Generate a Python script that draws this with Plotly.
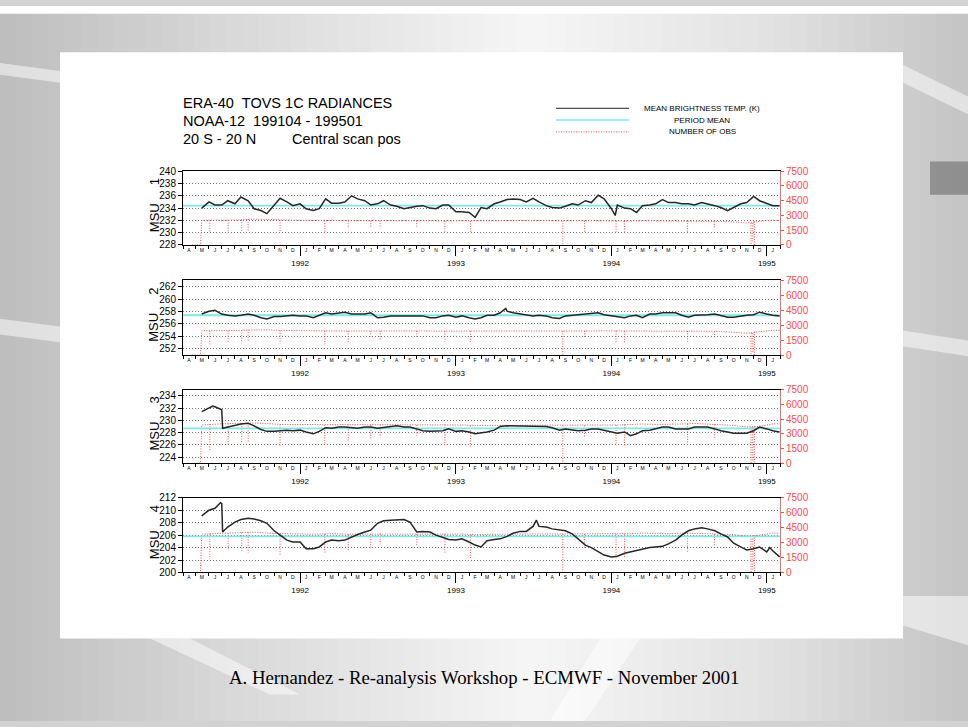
import pandas as pd
import plotly.graph_objects as go

# ---------------- text ----------------
TITLE_LINES = ["ERA-40  TOVS 1C RADIANCES", "NOAA-12  199104 - 199501", "20 S - 20 N"]
TITLE_EXTRA = "Central scan pos"
LEGEND_LABELS = ["MEAN BRIGHTNESS TEMP. (K)", "PERIOD MEAN", "NUMBER OF OBS"]
FOOTER = "A. Hernandez - Re-analysis Workshop - ECMWF - November 2001"
CHANNEL_NAMES = ["1", "2", "3", "4"]

# ---------------- axes ----------------
X_START, X_END = "1991-04-01", "1995-02-01"
YEAR_TICKS = ["1992-01-01", "1993-01-01", "1994-01-01", "1995-01-01"]
YEAR_LABELS = ["1992", "1993", "1994", "1995"]
MONTH_LETTERS = ["J", "F", "M", "A", "M", "J", "J", "A", "S", "O", "N", "D"]
LEFT_RANGES = [[228, 240], [251, 263], [223, 235], [200, 212]]
LEFT_TICKS = [[228, 230, 232, 234, 236, 238, 240],
              [252, 254, 256, 258, 260, 262],
              [224, 226, 228, 230, 232, 234],
              [200, 202, 204, 206, 208, 210, 212]]
OBS_RANGE = [0, 7500]
OBS_TICKS = [0, 1500, 3000, 4500, 6000, 7500]

# ---------------- data ----------------
# mean brightness temperature, sampled on the 1st and 15th of each month
TEMP_DATES = ["1991-05-15"] + [f"{y}-{m:02d}-{d:02d}"
                               for y in range(1991, 1996) for m in range(1, 13) for d in (1, 15)
                               if (y, m) >= (1991, 6) and (y, m) <= (1995, 1)] + ["1995-01-31"]

TEMP_MSU1 = [234.0, 235.0, 234.5, 234.5, 235.2, 234.7, 235.8, 235.2, 233.9, 233.6, 233.1, 234.4, 235.6, 235.0, 234.4,
             234.7, 233.9, 233.6, 233.9, 235.5, 234.8, 234.8, 235.0, 236.0, 235.5, 235.2, 234.5, 234.7, 235.2, 234.5, 234.3,
             233.9, 234.1, 234.3, 234.4, 234.0, 233.9, 234.5, 234.5,
             233.4, 233.4, 233.3, 232.5, 234.1, 233.9, 234.7, 235.0, 235.4, 235.5, 235.4, 235.0, 235.6, 235.0, 234.4, 234.1,
             234.0, 234.3, 234.7, 234.5, 235.2, 234.9, 236.1, 235.5,
             233.9, 234.5, 234.0, 233.9, 233.3, 234.4, 234.5, 234.7, 235.4, 234.9, 234.9, 234.7, 234.7, 234.5, 234.9, 234.7,
             234.4, 234.1, 233.6, 234.1, 234.7, 234.9, 235.9, 235.2,
             234.7, 234.4, 234.4]
TEMP_MSU2 = [257.6, 258.05, 258.2, 257.6, 257.4, 257.3, 257.4, 257.6, 257.4, 257.0, 256.8, 257.2, 257.2, 257.3, 257.4,
             257.3, 257.3, 257.0, 257.4, 257.8, 257.6, 257.8, 257.9, 257.6, 257.6, 257.6, 257.8, 257.0, 257.1, 257.3, 257.3,
             257.3, 257.4, 257.3, 257.3, 257.0, 257.0, 257.3, 257.4,
             257.1, 257.3, 257.0, 256.8, 257.0, 257.4, 257.4, 257.8, 258.05, 257.8, 257.6, 257.4, 257.3, 257.4, 257.3, 257.0,
             256.9, 257.3, 257.4, 257.4, 257.5, 257.6, 257.8, 257.5,
             257.3, 257.1, 257.0, 257.3, 257.4, 257.0, 257.6, 257.6, 257.8, 257.8, 257.8, 257.4, 257.1, 257.4, 257.4, 257.5,
             257.6, 257.4, 257.1, 257.1, 257.3, 257.4, 257.5, 257.9,
             257.6, 257.4, 257.3]
TEMP_MSU3 = [231.4, 232.0, 232.2, 231.7, 228.9, 229.1, 229.4, 229.5, 229.1, 228.5, 228.2, 228.2, 228.3, 228.4, 228.3,
             228.4, 228.1, 227.8, 228.2, 228.8, 228.7, 228.9, 228.9, 228.8, 228.7, 228.9, 228.9, 228.7, 228.8, 228.9, 229.1,
             228.9, 228.9, 228.6, 228.3, 228.2, 228.2, 228.3, 228.6,
             228.2, 228.3, 228.1, 227.8, 227.9, 228.1, 228.4, 229.0, 229.1, 229.1, 229.0, 229.0, 229.1, 229.0, 229.0, 228.8,
             228.4, 228.6, 228.4, 228.3, 228.4, 228.6, 228.6, 228.4,
             228.1, 227.9, 228.1, 227.5, 227.8, 228.3, 228.4, 228.6, 228.9, 228.9, 228.6, 228.6, 228.6, 228.9, 228.9, 228.9,
             228.6, 228.3, 228.1, 227.9, 227.9, 227.9, 228.3, 228.9,
             228.6, 228.3, 228.1]
TEMP_MSU4 = [209.1, 210.0, 210.3, 211.05, 207.3, 208.1, 208.5, 208.7, 208.6, 208.3, 207.9, 206.7, 206.0, 205.2, 204.9,
             204.9, 203.8, 203.8, 204.1, 204.9, 205.2, 205.1, 205.2, 205.7, 206.1, 206.5, 206.8, 207.9, 208.3, 208.4, 208.5,
             208.5, 208.1, 206.5, 206.6, 206.5, 206.0, 205.6, 205.3,
             205.2, 205.4, 204.9, 204.4, 204.1, 205.1, 205.3, 205.4, 205.8, 206.3, 206.6, 206.6, 207.4, 207.4, 207.3, 207.0,
             206.8, 206.7, 206.2, 205.4, 204.4, 204.0, 203.3, 202.8,
             202.5, 202.6, 203.1, 203.3, 203.6, 203.8, 204.0, 204.1, 204.2, 204.6, 205.2, 206.0, 206.7, 207.0, 207.2, 207.0,
             206.7, 206.2, 205.7, 204.7, 204.1, 203.6, 203.8, 204.1,
             203.3, 203.5, 202.5]
# a few extra readings (sharp features) per channel
TEMP_EXTRA_DATES = [["1994-01-10"], ["1993-04-28"], ["1991-06-10", "1991-07-03"],
                    ["1991-06-28", "1991-07-03", "1993-07-09", "1995-01-08", "1995-01-22"]]
TEMP_EXTRA_VALUES = [[232.8], [258.5], [232.3, 228.7], [211.2, 206.5, 208.4, 204.0, 203.0]]
PERIOD_MEAN = [234.4, 257.4, 228.7, 205.8]

# number of observations (mid-month readings)
OBS_START_DATES = ["1991-04-22", "1991-05-12"]
OBS_DATES = [f"{y}-{m:02d}-15" for y in range(1991, 1996) for m in range(1, 13)
             if (y, m) >= (1991, 5) and (y, m) <= (1995, 1)] + ["1995-01-31"]
OBS_MSU1 = [2520, 2500, 2520, 2560, 2620, 2600, 2540, 2520,
            2500, 2480, 2500, 2470, 2480, 2470, 2480, 2460, 2470, 2480, 2450, 2450,
            2470, 2450, 2480, 2460, 2480, 2470, 2460, 2450, 2470, 2470, 2460, 2480,
            2450, 2440, 2460, 2450, 2460, 2470, 2450, 2440, 2400, 2350, 2250, 2400,
            2520, 2500]
OBS_MSU2 = [2450, 2430, 2460, 2500, 2560, 2550, 2480, 2450,
            2430, 2420, 2430, 2420, 2430, 2420, 2420, 2410, 2420, 2430, 2410, 2400,
            2420, 2400, 2430, 2410, 2420, 2420, 2410, 2400, 2420, 2430, 2420, 2440,
            2410, 2400, 2420, 2410, 2420, 2430, 2410, 2400, 2380, 2300, 2200, 2350,
            2500, 2480]
OBS_MSU3 = [3900, 4000, 4050, 4050, 4100, 4050, 3950, 3950,
            3950, 3900, 3950, 3950, 3900, 3900, 3950, 3950, 3900, 3900, 3900, 3950,
            3900, 3850, 3850, 3900, 3900, 3900, 3900, 3900, 3850, 3850, 3900, 3900,
            3900, 3950, 4000, 3950, 3950, 4000, 4050, 4000, 3950, 3850, 3700, 3750,
            4000, 4050]
OBS_MSU4 = [3850, 3900, 3950, 4000, 4050, 3950, 3900, 3850,
            3850, 3850, 3900, 3850, 3850, 3850, 3900, 3900, 3850, 3850, 3850, 3850,
            3850, 3800, 3850, 3850, 3850, 3850, 3900, 3850, 3850, 3850, 3850, 3850,
            3850, 3900, 3950, 3900, 3900, 3950, 3950, 3900, 3850, 3800, 3650, 3750,
            3950, 3950]
# days with a sharp drop in the number of observations
DIP_DATES = ["1991-06-03", "1991-07-16", "1991-08-17", "1991-09-01", "1991-11-15", "1992-02-28", "1992-04-23",
             "1992-06-15", "1992-07-07", "1992-10-01", "1992-12-06", "1993-02-04", "1993-09-09", "1993-10-30",
             "1994-01-12", "1994-02-01", "1994-06-29", "1994-08-31", "1994-11-25", "1994-11-29", "1994-12-03"]
DIP_MSU1 = [1180, 1350, 1350, 1350, 1280, 1180, 1690, 1860, 1690, 1860, 1350, 1180, 0, 1350, 1350, 1350, 1350, 1800, 0, 300, 0]
DIP_MSU2 = [1010, 1350, 1180, 1350, 1180, 1080, 1350, 1860, 1520, 1690, 1350, 1180, 0, 1690, 1180, 1180, 1350, 1690, 0, 300, 0]
DIP_MSU3 = [1330, 1825, 1990, 2160, 1660, 1990, 2160, 2500, 2650, 2820, 1825, 1660, 0, 2650, 1825, 1660, 1990, 2600, 0, 300, 0]
DIP_MSU4 = [1330, 2170, 2170, 2000, 1670, 2000, 2170, 2500, 2830, 2670, 2000, 1330, 0, 2500, 1330, 1500, 2000, 2600, 0, 300, 0]

TEMPS = [TEMP_MSU1, TEMP_MSU2, TEMP_MSU3, TEMP_MSU4]
OBS = [OBS_MSU1, OBS_MSU2, OBS_MSU3, OBS_MSU4]
DIPS = [DIP_MSU1, DIP_MSU2, DIP_MSU3, DIP_MSU4]

# ---------------- styling / layout ----------------
W, H = 968, 727
BLACK = "#262626"
CYAN = "#7fe8e8"
RED = "#ff4a4a"
FONT = "Liberation Sans, Arial, sans-serif"
PLOT_X = (183, 780)
PANELS = [(168, 243), (279, 355), (390, 465), (500, 576)]


def fx(p):
    return p / W


def fy(p):
    return 1 - p / H


fig = go.Figure()
layout = dict(width=W, height=H, margin=dict(l=0, r=0, t=0, b=0), autosize=False,
              paper_bgcolor="#d2d2d2", plot_bgcolor="rgba(0,0,0,0)", showlegend=False,
              font=dict(family=FONT, color="black"))

months = pd.date_range(X_START, X_END, freq="MS")[:-1]
mid_months = [(m + pd.Timedelta(days=14)).strftime("%Y-%m-%d") for m in months]
month_text = [MONTH_LETTERS[m.month - 1] for m in months]

annotations = []
shapes = []

# slide background (grey gradient, white card, light swooshes)
grad_anchor_x = [0.0, 0.25, 0.55, 0.8, 1.0]
grad_anchor_g = [190, 218, 246, 226, 196]
NB = 60
for b in range(NB):
    t = (b + 0.5) / NB
    for a in range(len(grad_anchor_x) - 1):
        if grad_anchor_x[a] <= t <= grad_anchor_x[a + 1]:
            f = (t - grad_anchor_x[a]) / (grad_anchor_x[a + 1] - grad_anchor_x[a])
            g = int(grad_anchor_g[a] + f * (grad_anchor_g[a + 1] - grad_anchor_g[a]))
    shapes.append(dict(type="rect", xref="paper", yref="paper", x0=b / NB, x1=(b + 1) / NB + 0.002,
                       y0=0, y1=1, fillcolor=f"rgb({g},{g},{g})", line=dict(width=0), layer="below"))


def ppath(pts):
    s = "M " + " L ".join(f"{fx(x):.4f},{fy(y):.4f}" for x, y in pts) + " Z"
    return s


swooshes = [
    [(0, 58), (60, 66), (60, 78), (0, 70)],
    [(0, 318), (60, 326), (60, 342), (0, 334)],
    [(903, 60), (968, 92), (968, 110), (903, 78)],
    [(903, 330), (968, 340), (968, 356), (903, 346)],
    [(600, 643), (640, 643), (585, 727), (550, 727)],
    [(903, 600), (968, 600), (968, 650), (903, 630)],
    [(150, 643), (190, 643), (300, 700), (270, 700)],
]
for pts in swooshes:
    shapes.append(dict(type="path", xref="paper", yref="paper", path=ppath(pts),
                       fillcolor="rgba(255,255,255,0.5)", line=dict(width=0), layer="below"))
shapes.append(dict(type="rect", xref="paper", yref="paper", x0=fx(930), x1=1, y0=fy(192), y1=fy(158),
                   fillcolor="rgba(90,90,90,0.5)", line=dict(width=0), layer="below"))
shapes.append(dict(type="rect", xref="paper", yref="paper", x0=0, x1=1, y0=fy(8), y1=1,
                   fillcolor="white", line=dict(width=0), layer="below"))
shapes.append(dict(type="rect", xref="paper", yref="paper", x0=fx(60), x1=fx(903), y0=fy(643), y1=fy(47),
                   fillcolor="white", line=dict(width=0), layer="below"))

for i in range(4):
    k = i + 1
    top, bot = PANELS[i]
    dom_y = [fy(bot), fy(top)]
    xa, obs_ax, t_ax, yr_ax = f"x{k}", f"y{k}", f"y{k + 4}", f"x{k + 4}"

    # number of obs (base axis, right)
    obs_x = OBS_START_DATES + OBS_DATES
    obs_y = [0, 0] + OBS[i]
    fig.add_trace(go.Scatter(x=obs_x, y=obs_y, xaxis=xa, yaxis=obs_ax, mode="lines",
                             line=dict(color=RED, width=1, dash="1px,1.5px"), hoverinfo="skip"))
    obs_series = pd.Series(OBS[i], index=pd.to_datetime(OBS_DATES))
    dx, dy = [], []
    for d, v in zip(DIP_DATES, DIPS[i]):
        nearest = obs_series.iloc[abs(obs_series.index - pd.Timestamp(d)).argmin()]
        dx += [d, d, None]
        dy += [nearest, v, None]
    fig.add_trace(go.Scatter(x=dx, y=dy, xaxis=xa, yaxis=obs_ax, mode="lines",
                             line=dict(color=RED, width=1, dash="1px,1.5px"), hoverinfo="skip"))

    # period mean
    fig.add_trace(go.Scatter(x=[X_START, X_END], y=[PERIOD_MEAN[i]] * 2, xaxis=xa, yaxis=t_ax,
                             mode="lines", line=dict(color=CYAN, width=1.8), hoverinfo="skip"))
    # mean brightness temperature
    ts = pd.Series(TEMPS[i] + TEMP_EXTRA_VALUES[i],
                   index=pd.to_datetime(TEMP_DATES + TEMP_EXTRA_DATES[i])).sort_index()
    fig.add_trace(go.Scatter(x=ts.index, y=ts.values, xaxis=xa, yaxis=t_ax, mode="lines",
                             line=dict(color=BLACK, width=1.5), hoverinfo="skip"))
    # dummy for year axis
    fig.add_trace(go.Scatter(x=[YEAR_TICKS[0]], y=[None], xaxis=yr_ax, yaxis=obs_ax, mode="lines",
                             hoverinfo="skip"))

    layout[f"xaxis{k}"] = dict(domain=[fx(PLOT_X[0]), fx(PLOT_X[1])], anchor=obs_ax, type="date",
                               range=[X_START, X_END], showline=True, linecolor="black", linewidth=1,
                               mirror=True, showgrid=False, zeroline=False, tickmode="array",
                               tickvals=mid_months, ticktext=month_text, ticks="", tickangle=0,
                               tickfont=dict(size=5, color="black", family=FONT),
                               minor=dict(dtick="M1", tick0=X_START, ticks="outside", ticklen=3,
                                          tickcolor="black", showgrid=False))
    layout[f"xaxis{k + 4}"] = dict(overlaying=xa, anchor=obs_ax, type="date", range=[X_START, X_END],
                                   side="bottom", showline=False, showgrid=False, zeroline=False,
                                   tickmode="array", tickvals=YEAR_TICKS, ticktext=YEAR_LABELS,
                                   ticks="outside", ticklen=10, tickcolor="black", tickangle=0,
                                   tickfont=dict(size=8, color="black", family=FONT))
    layout[f"yaxis{k}"] = dict(domain=dom_y, anchor=xa, side="right", range=OBS_RANGE,
                               tickmode="array", tickvals=OBS_TICKS, ticks="outside", ticklen=3,
                               tickcolor=RED, showline=True, linecolor="#cc7a7a", linewidth=1,
                               showgrid=False, zeroline=False,
                               tickfont=dict(size=10, color=RED, family=FONT))
    layout[f"yaxis{k + 4}"] = dict(overlaying=obs_ax, anchor=xa, side="left", range=LEFT_RANGES[i],
                                   tickmode="array", tickvals=LEFT_TICKS[i], ticks="outside", ticklen=4,
                                   tickcolor="black", showline=True, linecolor="black", linewidth=1,
                                   showgrid=True, gridcolor="#707070", gridwidth=1, griddash="1px,2px",
                                   zeroline=False, tickfont=dict(size=10, color="black", family=FONT))

    annotations.append(dict(text="MSU" + "\u00a0" * 5 + CHANNEL_NAMES[i], xref="paper", yref="paper",
                            x=fx(154), y=fy((top + bot) / 2 - 3), textangle=-90, showarrow=False,
                            xanchor="center", yanchor="middle",
                            font=dict(size=13, color="black", family=FONT)))

# title block
for line, ypx in zip(TITLE_LINES, [99, 117, 135]):
    annotations.append(dict(text=line.replace(" ", "\u00a0"), xref="paper", yref="paper", x=fx(181), y=fy(ypx),
                            xanchor="left", yanchor="middle", showarrow=False,
                            font=dict(size=14.5, color="black", family=FONT)))
annotations.append(dict(text=TITLE_EXTRA, xref="paper", yref="paper", x=fx(290), y=fy(135),
                        xanchor="left", yanchor="middle", showarrow=False,
                        font=dict(size=14.5, color="black", family=FONT)))

# legend
leg_rows = [104, 116, 128]
leg_styles = [dict(color=BLACK, width=1), dict(color=CYAN, width=1.5), dict(color=RED, width=1, dash="1px,1.5px")]
for lab, ypx, st in zip(LEGEND_LABELS, leg_rows, leg_styles):
    shapes.append(dict(type="line", xref="paper", yref="paper", x0=fx(556), x1=fx(629), y0=fy(ypx), y1=fy(ypx),
                       line=st))
    annotations.append(dict(text=lab, xref="paper", yref="paper", x=fx(702), y=fy(ypx), xanchor="center",
                            yanchor="middle", showarrow=False, font=dict(size=8, color="black", family=FONT)))

annotations.append(dict(text=FOOTER, xref="paper", yref="paper", x=fx(484), y=fy(683), xanchor="center",
                        yanchor="middle", showarrow=False,
                        font=dict(size=18.8, color="black", family="Liberation Serif, Times New Roman, serif")))

layout["annotations"] = annotations
layout["shapes"] = shapes
fig.update_layout(**layout)
fig.write_html("out.html", config={"displayModeBar": False},
               post_script="document.body.style.margin='0px';")
